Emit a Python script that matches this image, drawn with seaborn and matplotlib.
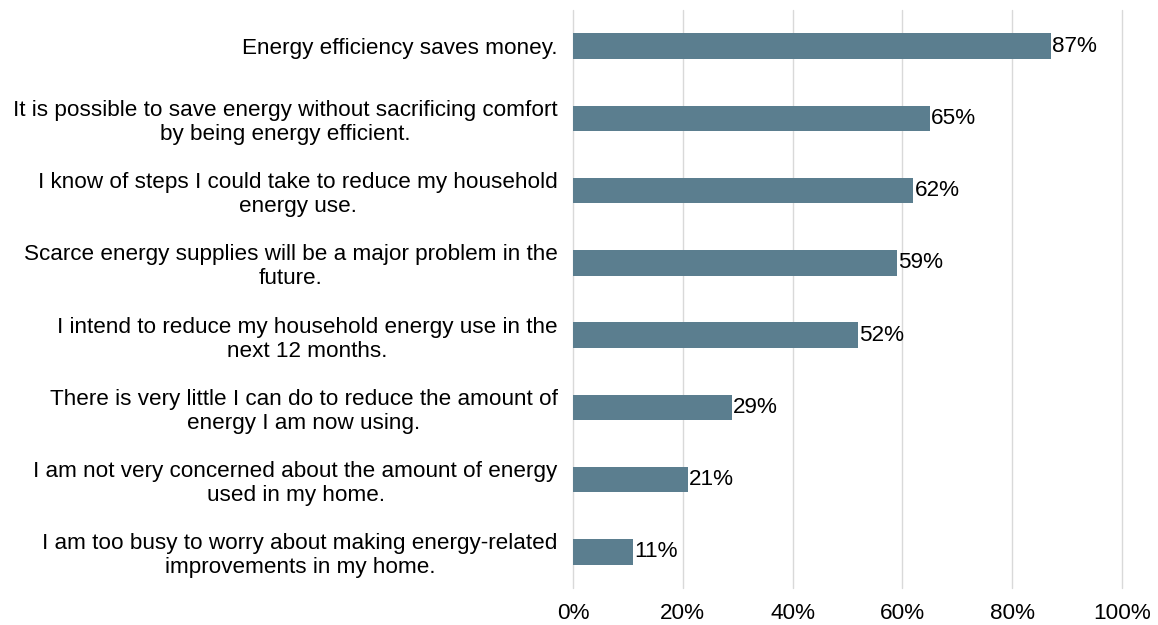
import pandas as pd
import numpy as np
import seaborn as sns
import matplotlib.pyplot as plt
from matplotlib.ticker import PercentFormatter

statements = [
    'Energy efficiency saves money.',
    'It is possible to save energy without sacrificing comfort\nby being energy efficient.',
    'I know of steps I could take to reduce my household\nenergy use.',
    'Scarce energy supplies will be a major problem in the\nfuture.',
    'I intend to reduce my household energy use in the\nnext 12 months.',
    'There is very little I can do to reduce the amount of\nenergy I am now using.',
    'I am not very concerned about the amount of energy\nused in my home.',
    'I am too busy to worry about making energy-related\nimprovements in my home.',
]
agree = [87, 65, 62, 59, 52, 29, 21, 11]

df = pd.DataFrame({'statement': statements, 'agree': agree})

sns.set_theme(style='white')
plt.rcParams['font.family'] = ['Liberation Sans', 'DejaVu Sans']
fs = 16.2

fig = plt.figure(figsize=(11.58, 6.25), dpi=100)
ax = fig.add_axes([0.4948, 0.0592, 0.4741, 0.9248])

sns.barplot(data=df, x='agree', y='statement', ax=ax, color='#5b7e8f',
            saturation=1, width=0.35, orient='h', linewidth=0, zorder=3)

for i, v in enumerate(agree):
    ax.text(v + 0.2, i, f'{v}%', va='center', ha='left', fontsize=fs, color='black')

ax.set_xlim(0, 100)
ax.set_ylim(7.5, -0.5)
ax.set_xticks(np.arange(0, 101, 20))
ax.xaxis.set_major_formatter(PercentFormatter(decimals=0))
ax.grid(axis='x', color='#d9d9d9', linewidth=1, zorder=0)
for gl in ax.get_xgridlines():
    gl.set_clip_on(False)
ax.set_xlabel('')
ax.set_ylabel('')
for s in ax.spines.values():
    s.set_visible(False)
ax.tick_params(axis='y', length=0, pad=11, labelsize=fs, labelcolor='black')
ax.tick_params(axis='x', length=0, pad=11, labelsize=fs, labelcolor='black')
for lbl in ax.get_yticklabels():
    lbl.set_multialignment('center')
    lbl.set_linespacing(1.18)

fig.savefig('out.png', dpi=100)
